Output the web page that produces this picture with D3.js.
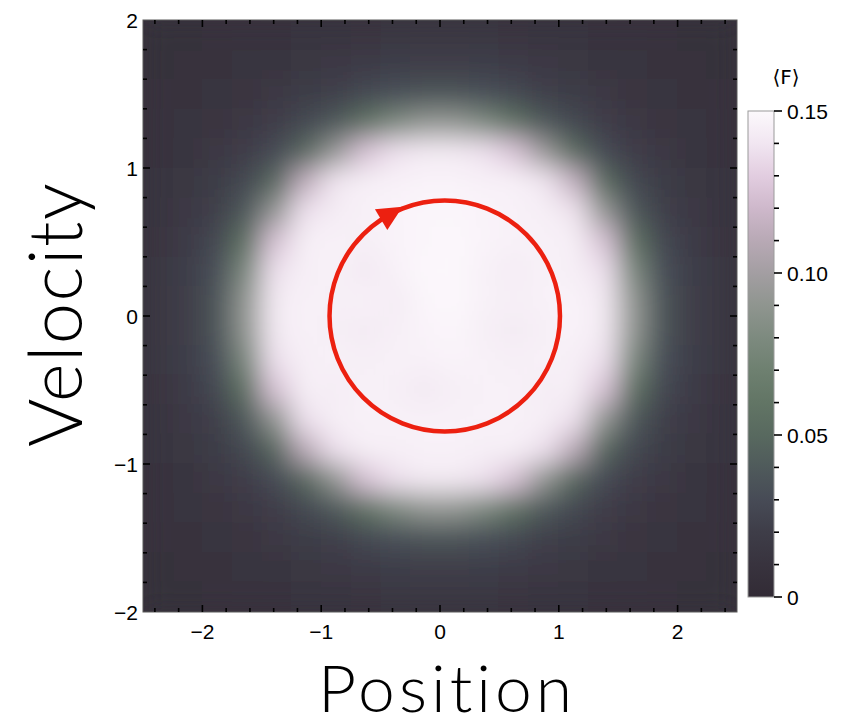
<!DOCTYPE html>
<html><head><meta charset="utf-8">
<script src="https://cdn.jsdelivr.net/npm/d3@7"></script>
<style>body{margin:0;background:#fff}</style>
</head><body>
<svg id="c" width="848" height="726"></svg>
<script>
// ---- data ----
const xCenters = [-2.375,-2.125,-1.875,-1.625,-1.375,-1.125,-0.875,-0.625,-0.375,-0.125,0.125,0.375,0.625,0.875,1.125,1.375,1.625,1.875,2.125,2.375];
const yCenters = [1.9,1.7,1.5,1.3,1.1,0.9,0.7,0.5,0.3,0.1,-0.1,-0.3,-0.5,-0.7,-0.9,-1.1,-1.3,-1.5,-1.7,-1.9];
const F = [
 [.006,.007,.008,.009,.010,.011,.012,.013,.014,.014,.014,.014,.013,.012,.011,.010,.009,.008,.007,.006],
 [.007,.008,.009,.011,.012,.014,.016,.018,.020,.021,.021,.020,.018,.016,.014,.012,.011,.009,.008,.007],
 [.008,.009,.011,.013,.016,.019,.023,.028,.033,.036,.036,.033,.028,.023,.019,.016,.013,.011,.009,.008],
 [.009,.011,.013,.016,.021,.028,.040,.058,.080,.092,.092,.080,.058,.040,.028,.021,.016,.013,.011,.009],
 [.010,.012,.016,.021,.030,.052,.094,.125,.138,.142,.142,.138,.126,.096,.054,.030,.021,.016,.012,.010],
 [.011,.014,.019,.028,.052,.114,.140,.145,.146,.147,.147,.146,.146,.140,.116,.054,.028,.019,.014,.011],
 [.012,.016,.023,.040,.094,.138,.143,.146,.147,.148,.148,.147,.146,.145,.139,.094,.040,.023,.016,.012],
 [.013,.018,.028,.058,.125,.145,.146,.145,.147,.148,.149,.147,.146,.146,.145,.125,.058,.028,.018,.013],
 [.014,.020,.033,.080,.138,.145,.146,.141,.146,.149,.149,.146,.143,.146,.145,.138,.080,.033,.020,.014],
 [.014,.021,.036,.092,.142,.146,.145,.146,.143,.148,.149,.146,.145,.146,.147,.142,.092,.036,.021,.014],
 [.014,.021,.036,.092,.142,.146,.144,.142,.145,.147,.148,.145,.142,.145,.147,.142,.092,.036,.021,.014],
 [.014,.020,.033,.080,.138,.145,.146,.145,.146,.146,.147,.146,.145,.146,.145,.138,.080,.033,.020,.014],
 [.013,.018,.028,.058,.125,.145,.143,.146,.145,.141,.145,.146,.146,.143,.145,.125,.058,.028,.018,.013],
 [.012,.016,.023,.040,.092,.138,.145,.146,.146,.146,.146,.146,.146,.145,.138,.092,.040,.023,.016,.012],
 [.011,.014,.019,.028,.050,.112,.138,.145,.145,.146,.146,.145,.145,.138,.112,.050,.028,.019,.014,.011],
 [.010,.012,.016,.021,.030,.050,.092,.125,.138,.142,.142,.138,.125,.092,.050,.030,.021,.016,.012,.010],
 [.009,.011,.013,.016,.021,.028,.040,.058,.080,.092,.092,.080,.058,.040,.028,.021,.016,.013,.011,.009],
 [.008,.009,.011,.013,.016,.019,.023,.028,.033,.036,.036,.033,.028,.023,.019,.016,.013,.011,.009,.008],
 [.007,.008,.009,.011,.012,.014,.016,.018,.020,.021,.021,.020,.018,.016,.014,.012,.011,.009,.008,.007],
 [.006,.007,.008,.009,.010,.011,.012,.013,.014,.014,.014,.014,.013,.012,.011,.010,.009,.008,.007,.006]
];
const xTicks = [-2,-1,0,1,2];
const yTicks = [-2,-1,0,1,2];
const tickLabels = ["\u22122","\u22121","0","1","2"];
const cbTicks = [0,0.05,0.10,0.15];
const cbLabels = ["0","0.05","0.10","0.15"];
const colorVals  = [0,0.01,0.02,0.03,0.04,0.05,0.06,0.07,0.08,0.09,0.10,0.11,0.12,0.13,0.14,0.15];
const colorHexes = ["#322b35","#38333e","#3e3d48","#474b56","#4f5a5b","#58695f","#627565","#6e8070","#7d8a7f","#8f958f","#a39ea2","#b8a9b5","#ceb8cb","#e2cde0","#f1e6f1","#fcf9fc"];
const orbitCenter = [0.04, 0];
const orbitRadii = [0.97, 0.78];
const arrowAngleDeg = -121;

// ---- layout ----
const svg = d3.select("#c");
const x = d3.scaleLinear().domain([-2.5,2.5]).range([143,737]);
const y = d3.scaleLinear().domain([-2,2]).range([612,20]);
const color = d3.scaleLinear().domain(colorVals).range(colorHexes).clamp(true);
const cb = d3.scaleLinear().domain([0,0.15]).range([597,111]);

const defs = svg.append("defs");
defs.append("clipPath").attr("id","plotclip").append("rect")
  .attr("x",x(-2.5)).attr("y",y(2)).attr("width",x(2.5)-x(-2.5)).attr("height",y(-2)-y(2));
const filt = defs.append("filter").attr("id","blur").attr("x","-10%").attr("y","-10%").attr("width","120%").attr("height","120%");
filt.append("feGaussianBlur").attr("stdDeviation",13).attr("edgeMode","duplicate");

const plot = svg.append("g").attr("clip-path","url(#plotclip)");
plot.append("rect").attr("x",x(-2.5)).attr("y",y(2)).attr("width",x(2.5)-x(-2.5)).attr("height",y(-2)-y(2)).attr("fill",color(0.008));
const cells = [];
F.forEach((row,i)=>row.forEach((v,j)=>cells.push({x:xCenters[j],y:yCenters[i],v})));
plot.append("g").attr("filter","url(#blur)")
  .selectAll("rect").data(cells).join("rect")
  .attr("x",d=>x(d.x-0.125)-0.5)
  .attr("y",d=>y(d.y+0.1)-0.5)
  .attr("width",d=>x(d.x+0.125)-x(d.x-0.125)+1)
  .attr("height",d=>y(d.y-0.1)-y(d.y+0.1)+1)
  .attr("fill",d=>color(d.v));

// orbit annotation
const cx = x(orbitCenter[0]), cy = y(orbitCenter[1]);
const rx = x(orbitCenter[0]+orbitRadii[0]) - cx, ry = y(orbitCenter[1]) - y(orbitCenter[1]+orbitRadii[1]);
svg.append("ellipse").attr("cx",cx).attr("cy",cy).attr("rx",rx).attr("ry",ry)
  .attr("fill","none").attr("stroke","#ec2010").attr("stroke-width",4.5);
const th = arrowAngleDeg*Math.PI/180;
const bx = cx + rx*Math.cos(th), by = cy + ry*Math.sin(th);
const tx = -Math.sin(th), ty = Math.cos(th);
const L = 25, W = 12;
const tip = [bx + tx*L*0.8, by + ty*L*0.8];
const b1 = [bx - tx*L*0.2 + (-ty)*W, by - ty*L*0.2 + tx*W];
const b2 = [bx - tx*L*0.2 - (-ty)*W, by - ty*L*0.2 - tx*W];
svg.append("path").attr("d",`M${tip}L${b1}L${b2}Z`).attr("fill","#ec2010");

// frame
svg.append("rect").attr("x",x(-2.5)).attr("y",y(2)).attr("width",x(2.5)-x(-2.5)).attr("height",y(-2)-y(2))
  .attr("fill","none").attr("stroke","#5a5a5a").attr("stroke-width",1);

// ticks (inward, all sides)
const tg = svg.append("g").attr("stroke","#000").attr("stroke-width",1.6);
const xMinor = d3.range(-2.4,2.41,0.2).map(v=>+v.toFixed(2));
const yMinor = d3.range(-1.8,1.81,0.2).map(v=>+v.toFixed(2));
xMinor.forEach(v=>{
  const major = Math.abs(v-Math.round(v))<1e-6;
  const len = major?7:4;
  tg.append("line").attr("x1",x(v)).attr("x2",x(v)).attr("y1",y(-2)).attr("y2",y(-2)-len);
  tg.append("line").attr("x1",x(v)).attr("x2",x(v)).attr("y1",y(2)).attr("y2",y(2)+len);
});
yMinor.forEach(v=>{
  const major = Math.abs(v-Math.round(v))<1e-6;
  const len = major?7:4;
  tg.append("line").attr("x1",x(-2.5)).attr("x2",x(-2.5)+len).attr("y1",y(v)).attr("y2",y(v));
  tg.append("line").attr("x1",x(2.5)).attr("x2",x(2.5)-len).attr("y1",y(v)).attr("y2",y(v));
});

const fontTick = "'Liberation Sans', Arial, Helvetica, sans-serif";
svg.append("g").selectAll("text").data(xTicks).join("text")
  .attr("x",d=>x(d)).attr("y",639).attr("text-anchor","middle")
  .attr("font-family",fontTick).attr("font-size",21).text((d,i)=>tickLabels[i]);
svg.append("g").selectAll("text").data(yTicks).join("text")
  .attr("x",138).attr("y",d=>y(d)+7.5).attr("text-anchor","end")
  .attr("font-family",fontTick).attr("font-size",21).text((d,i)=>tickLabels[i]);

// colorbar
const grad = defs.append("linearGradient").attr("id","cbgrad").attr("x1",0).attr("y1",1).attr("x2",0).attr("y2",0);
colorVals.forEach((v,i)=>grad.append("stop").attr("offset",v/0.15).attr("stop-color",colorHexes[i]));
svg.append("rect").attr("x",748).attr("y",cb(0.15)).attr("width",26).attr("height",cb(0)-cb(0.15))
  .attr("fill","url(#cbgrad)").attr("stroke","#9a9a9a").attr("stroke-width",1);
const cbMinor = d3.range(0,0.1501,0.01).map(v=>+v.toFixed(3));
const cg = svg.append("g").attr("stroke","#000").attr("stroke-width",1.6);
cbMinor.forEach(v=>{
  const major = Math.abs(v/0.05-Math.round(v/0.05))<1e-6;
  cg.append("line").attr("x1",774).attr("x2",774+(major?8:5)).attr("y1",cb(v)).attr("y2",cb(v));
});
svg.append("g").selectAll("text").data(cbTicks).join("text")
  .attr("x",787).attr("y",d=>cb(d)+7.5)
  .attr("font-family",fontTick).attr("font-size",21).text((d,i)=>cbLabels[i]);
svg.append("text").attr("x",786).attr("y",84).attr("text-anchor","middle")
  .attr("font-family","'DejaVu Sans', sans-serif").attr("font-size",20).text("\u27E8F\u27E9");

// axis titles
svg.append("text").attr("x",445).attr("y",712).attr("text-anchor","middle")
  .attr("font-family","Lato, 'Open Sans', sans-serif").attr("font-weight",300).attr("font-size",66)
  .attr("textLength",254).attr("lengthAdjust","spacing")
  .style("font-variant-ligatures","none")
  .text("Position");
svg.append("text").attr("transform","translate(82,315) rotate(-90)").attr("text-anchor","middle")
  .attr("font-family","Lato, 'Open Sans', sans-serif").attr("font-weight",300).attr("font-size",74)
  .attr("textLength",264).attr("lengthAdjust","spacing")
  .style("font-variant-ligatures","none")
  .text("Velocity");
</script>
</body></html>
